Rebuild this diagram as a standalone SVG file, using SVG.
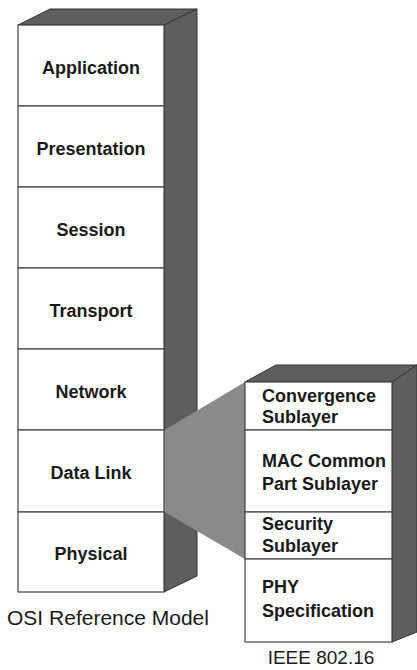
<svg xmlns="http://www.w3.org/2000/svg" width="417" height="670" viewBox="0 0 417 670">
<defs>
<style>
.bg{fill:#ffffff}
.face{fill:#ffffff;stroke:#444444;stroke-width:1.2}
.side{fill:#5e5e5e;stroke:#333333;stroke-width:1}
.wedge{fill:#8a8a8a;stroke:none}
.lbl{font-family:"Liberation Sans",Arial,sans-serif;font-weight:bold;font-size:18px;fill:#1a1a1a;text-anchor:middle}
.sub{font-family:"Liberation Sans",Arial,sans-serif;font-weight:bold;font-size:18px;fill:#1a1a1a}
.cap{font-family:"Liberation Sans",Arial,sans-serif;fill:#1a1a1a;text-anchor:middle}
</style>
</defs>
<rect class="bg" x="0" y="0" width="417" height="670"/>

<g id="osi-stack">
  <polygon class="side" points="18,25 50,9 197,9 164,25"/>
  <polygon class="side" points="164,25 197,9 197,576 164,592"/>
  <g id="osi-application"><rect class="face" x="18" y="25" width="146" height="81"/><text class="lbl" x="91" y="74">Application</text></g>
  <g id="osi-presentation"><rect class="face" x="18" y="106" width="146" height="81"/><text class="lbl" x="91" y="155">Presentation</text></g>
  <g id="osi-session"><rect class="face" x="18" y="187" width="146" height="81"/><text class="lbl" x="91" y="236">Session</text></g>
  <g id="osi-transport"><rect class="face" x="18" y="268" width="146" height="81"/><text class="lbl" x="91" y="317">Transport</text></g>
  <g id="osi-network"><rect class="face" x="18" y="349" width="146" height="81"/><text class="lbl" x="91" y="398">Network</text></g>
  <g id="osi-datalink"><rect class="face" x="18" y="430" width="146" height="82"/><text class="lbl" x="91" y="479">Data Link</text></g>
  <g id="osi-physical"><rect class="face" x="18" y="512" width="146" height="80"/><text class="lbl" x="91" y="560">Physical</text></g>
  <text class="cap" x="108" y="625" font-size="21">OSI Reference Model</text>
</g>

<g id="connectors">
  <polygon class="wedge" points="164.6,430 245,382 245,559 164.6,512"/>
</g>

<g id="ieee-stack">
  <polygon class="side" points="245,382 276,365 417,365 392,382"/>
  <polygon class="side" points="392,382 417,365 417,632 392,642"/>
  <g id="ieee-convergence"><rect class="face" x="245" y="382" width="147" height="48"/><text class="sub" x="262" y="402">Convergence</text><text class="sub" x="262" y="423">Sublayer</text></g>
  <g id="ieee-mac"><rect class="face" x="245" y="430" width="147" height="82"/><text class="sub" x="262" y="467">MAC Common</text><text class="sub" x="262" y="490">Part Sublayer</text></g>
  <g id="ieee-security"><rect class="face" x="245" y="512" width="147" height="47"/><text class="sub" x="262" y="530">Security</text><text class="sub" x="262" y="552">Sublayer</text></g>
  <g id="ieee-phy"><rect class="face" x="245" y="559" width="147" height="83"/><text class="sub" x="262" y="593">PHY</text><text class="sub" x="262" y="617">Specification</text></g>
  <text class="cap" x="321" y="664" font-size="19">IEEE 802.16</text>
</g>
</svg>
